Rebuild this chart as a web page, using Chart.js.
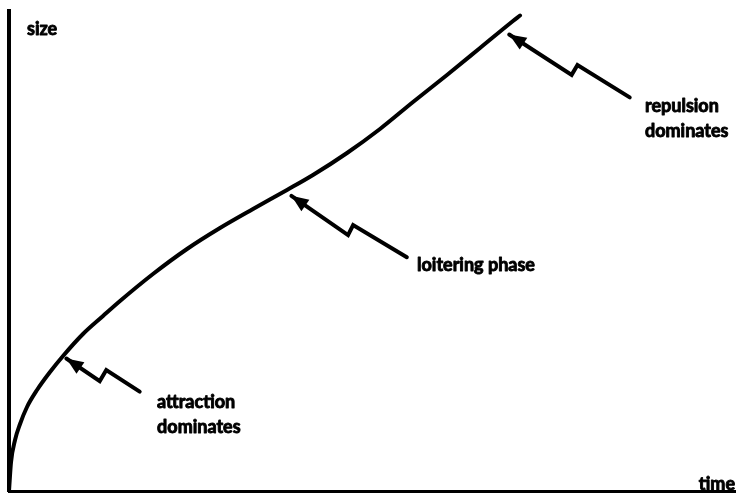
<!DOCTYPE html>
<html>
<head>
<meta charset="utf-8">
<script src="https://cdn.jsdelivr.net/npm/chart.js@4/dist/chart.umd.min.js"></script>
<style>
  html, body { margin: 0; padding: 0; background: #fff; }
  #wrap { width: 754px; height: 496px; position: relative; }
</style>
</head>
<body>
<div id="wrap"><canvas id="chart"></canvas></div>
<script>
// growth curve: time vs size (arbitrary units 0..100)
const curveTime = [0, 0.28, 0.83, 1.52, 2.48, 3.86, 5.65, 7.44, 10.19, 12.95, 15.29, 19.83, 24.52, 29.06, 33.61, 38.29, 41.87, 46.56, 51.10, 55.65, 60.33, 64.88, 69.42, 70.39];
const curveSize = [0, 6.04, 10.63, 13.96, 17.5, 21.04, 24.79, 28.13, 32.71, 36.46, 39.58, 45.21, 50.42, 54.79, 58.75, 62.71, 65.83, 70.42, 75.42, 81.04, 86.67, 92.29, 97.92, 99.06];

// zigzag arrows: tip first, then the kink, then the tail
const attractionArrowX = [7.9, 12.5, 13.4, 18.0];
const attractionArrowY = [27.6, 22.9, 25.2, 20.7];
const loiteringArrowX = [38.9, 46.7, 47.4, 54.8];
const loiteringArrowY = [61.5, 53.3, 55.4, 48.7];
const repulsionArrowX = [68.9, 77.5, 78.3, 85.5];
const repulsionArrowY = [95.1, 86.7, 88.75, 82.0];

// annotation text, anchored in data units
const labelText = [['size'], ['time'], ['attraction', 'dominates'], ['loitering phase'], ['repulsion', 'dominates']];
const labelX = [2.48, 100, 20.4, 56.2, 87.6];
const labelY = [96.25, 1.4, 18.5, 47.1, 80.2];
const labelAlign = ['left', 'right', 'left', 'left', 'left'];

const toPoints = (xs, ys) => xs.map((x, i) => ({ x: x, y: ys[i] }));

const arrowDataset = (xs, ys) => ({
    data: toPoints(xs, ys),
    showLine: true,
    borderColor: '#000',
    borderWidth: 4,
    pointRadius: 0,
    tension: 0,
    borderCapStyle: 'round',
    borderJoinStyle: 'miter',
    isArrow: true
});

const arrowHeads = {
    id: 'arrowHeads',
    afterDatasetsDraw(chart) {
        const { ctx, scales } = chart;
        ctx.save();
        ctx.fillStyle = '#000';
        chart.data.datasets.forEach(ds => {
            if (!ds.isArrow) return;
            const tipX = scales.x.getPixelForValue(ds.data[0].x);
            const tipY = scales.y.getPixelForValue(ds.data[0].y);
            const bx = scales.x.getPixelForValue(ds.data[1].x);
            const by = scales.y.getPixelForValue(ds.data[1].y);
            const ang = Math.atan2(tipY - by, tipX - bx);
            const len = 17, half = 7;
            const baseX = tipX - Math.cos(ang) * len;
            const baseY = tipY - Math.sin(ang) * len;
            ctx.beginPath();
            ctx.moveTo(tipX, tipY);
            ctx.lineTo(baseX + Math.sin(ang) * half, baseY - Math.cos(ang) * half);
            ctx.lineTo(baseX - Math.sin(ang) * half, baseY + Math.cos(ang) * half);
            ctx.closePath();
            ctx.fill();
        });
        ctx.restore();
    }
};

const textLabels = {
    id: 'textLabels',
    afterDraw(chart) {
        const { ctx, scales } = chart;
        ctx.save();
        ctx.fillStyle = '#000';
        ctx.strokeStyle = '#000';
        ctx.lineWidth = 0.9;
        ctx.lineJoin = 'round';
        ctx.font = 'bold 18px Lato';
        ctx.textBaseline = 'middle';
        labelText.forEach((lines, i) => {
            const px = scales.x.getPixelForValue(labelX[i]);
            const py = scales.y.getPixelForValue(labelY[i]);
            ctx.textAlign = labelAlign[i];
            lines.forEach((line, j) => {
                ctx.fillText(line, px, py + j * 25);
                ctx.strokeText(line, px, py + j * 25);
            });
        });
        ctx.restore();
    }
};

new Chart(document.getElementById('chart').getContext('2d'), {
    type: 'scatter',
    data: {
        datasets: [
            {
                data: toPoints(curveTime, curveSize),
                showLine: true,
                borderColor: '#000',
                borderWidth: 4,
                pointRadius: 0,
                cubicInterpolationMode: 'monotone',
                borderCapStyle: 'round'
            },
            arrowDataset(attractionArrowX, attractionArrowY),
            arrowDataset(loiteringArrowX, loiteringArrowY),
            arrowDataset(repulsionArrowX, repulsionArrowY)
        ]
    },
    options: {
        responsive: true,
        maintainAspectRatio: false,
        animation: false,
        layout: { padding: { left: 9, right: 19, top: 11, bottom: 5 } },
        plugins: {
            legend: { display: false },
            tooltip: { enabled: false }
        },
        scales: {
            x: {
                type: 'linear',
                min: 0,
                max: 100,
                grid: { display: false },
                ticks: { display: false },
                border: { display: true, color: '#000', width: 3 },
                afterFit: (scale) => { scale.height = 0; }
            },
            y: {
                type: 'linear',
                min: 0,
                max: 100,
                grid: { display: false },
                ticks: { display: false },
                border: { display: true, color: '#000', width: 4 },
                afterFit: (scale) => { scale.width = 0; }
            }
        }
    },
    plugins: [arrowHeads, textLabels]
});
</script>
</body>
</html>
